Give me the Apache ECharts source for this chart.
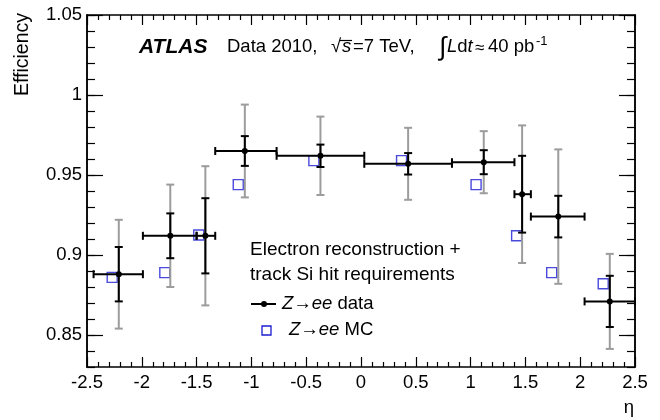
<!DOCTYPE html>
<html>
<head>
<meta charset="utf-8">
<script src="https://cdn.jsdelivr.net/npm/echarts@6/dist/echarts.min.js"></script>
<style>
    html, body { margin: 0; padding: 0; background: #fff; }
    #chart { width: 660px; height: 420px; }
</style>
</head>
<body>
<div id="chart"></div>
<script>
// eta bins (edges) and point positions
let binLo = [-2.44, -1.99, -1.50, -1.33, -0.77, 0.03, 0.83, 1.40, 1.55, 2.04];
let binHi = [-1.99, -1.50, -1.33, -0.77, 0.03, 0.83, 1.40, 1.55, 2.04, 2.50];
let etaData = [-2.21, -1.74, -1.42, -1.06, -0.37, 0.43, 1.12, 1.47, 1.80, 2.27];
let effData = [0.888, 0.912, 0.912, 0.965, 0.962, 0.957, 0.958, 0.938, 0.924, 0.871];
let statErr = [0.017, 0.014, 0.0235, 0.0093, 0.007, 0.0067, 0.0075, 0.024, 0.013, 0.016];
let totErr = [0.034, 0.032, 0.0435, 0.029, 0.0245, 0.0225, 0.0194, 0.043, 0.042, 0.0297];
// MC
let etaMC = [-2.27, -1.79, -1.48, -1.12, -0.43, 0.37, 1.05, 1.42, 1.74, 2.21];
let effMC = [0.886, 0.889, 0.9125, 0.944, 0.959, 0.959, 0.944, 0.912, 0.889, 0.882];
// y tick labels
let yMajor = [0.85, 0.9, 0.95, 1, 1.05];
let yMinor = [0.83, 0.84, 0.85, 0.86, 0.87, 0.88, 0.89, 0.9, 0.91, 0.92, 0.93, 0.94, 0.95,
    0.96, 0.97, 0.98, 0.99, 1, 1.01, 1.02, 1.03, 1.04, 1.05];

const FONT = '"Liberation Sans", Arial, Helvetica, sans-serif';
const GRAY = '#9c9c9c';
const BLUE = '#1c1cd2';

let myChart = echarts.init(document.getElementById('chart'));

let totData = [];
let blackData = [];
let mcData = [];
for (let i = 0; i < effData.length; i++) {
    totData.push([etaData[i], effData[i] - totErr[i], effData[i] + totErr[i]]);
    blackData.push([etaData[i], effData[i], binLo[i], binHi[i], statErr[i]]);
    mcData.push([etaMC[i], effMC[i]]);
}

let xAxisBase = (pos) => ({
    type: 'value',
    position: pos,
    min: -2.5,
    max: 2.5,
    interval: 0.5,
    axisLine: { show: true, onZero: false, lineStyle: { color: '#000', width: 1.5 } },
    axisTick: { show: true, inside: true, length: 10, lineStyle: { color: '#000', width: 1.2 } },
    minorTick: { show: true, splitNumber: 5, length: 5, lineStyle: { color: '#000', width: 1.2 } },
    splitLine: { show: false },
    axisLabel: {
        show: pos === 'bottom',
        color: '#000',
        fontSize: 18.5,
        fontFamily: FONT,
        margin: 6
    }
});

let yAxisBase = (pos, ticks, len, labels) => ({
    type: 'value',
    position: pos,
    min: 0.83,
    max: 1.05,
    axisLine: { show: true, onZero: false, lineStyle: { color: '#000', width: 1.5 } },
    axisTick: { show: true, inside: true, length: len, customValues: ticks, lineStyle: { color: '#000', width: 1.2 } },
    splitLine: { show: false },
    axisLabel: {
        show: labels,
        customValues: ticks,
        color: '#000',
        fontSize: 18.5,
        fontFamily: FONT,
        margin: 5,
        formatter: (v) => String(+(+v).toFixed(2))
    }
});

let italic = { i: { fontStyle: 'italic', fontSize: 18.5, fontFamily: FONT } };

let option = {
    animation: false,
    grid: { left: 87, right: 25, top: 15, bottom: 53 },
    xAxis: [xAxisBase('bottom'), xAxisBase('top')],
    yAxis: [
        yAxisBase('left', yMajor, 16, true),
        yAxisBase('left', yMinor, 8, false),
        yAxisBase('right', yMajor, 16, false),
        yAxisBase('right', yMinor, 8, false)
    ],
    series: [
        {
            // MC open squares
            type: 'scatter',
            data: mcData,
            symbol: 'rect',
            symbolSize: 10,
            itemStyle: { color: 'rgba(0,0,0,0)', borderColor: BLUE, borderWidth: 1.4 },
            z: 2
        },
        {
            // total uncertainty (gray)
            type: 'custom',
            data: totData,
            z: 3,
            renderItem: (params, api) => {
                let lo = api.coord([api.value(0), api.value(1)]);
                let hi = api.coord([api.value(0), api.value(2)]);
                let st = { stroke: GRAY, lineWidth: 2 };
                return {
                    type: 'group',
                    children: [
                        { type: 'line', shape: { x1: lo[0], y1: lo[1], x2: hi[0], y2: hi[1] }, style: st },
                        { type: 'line', shape: { x1: lo[0] - 4, y1: lo[1], x2: lo[0] + 4, y2: lo[1] }, style: st },
                        { type: 'line', shape: { x1: hi[0] - 4, y1: hi[1], x2: hi[0] + 4, y2: hi[1] }, style: st }
                    ]
                };
            }
        },
        {
            // data with stat errors and bin widths (black)
            type: 'custom',
            data: blackData,
            z: 4,
            renderItem: (params, api) => {
                let x = api.value(0), y = api.value(1);
                let c = api.coord([x, y]);
                let l = api.coord([api.value(2), y]);
                let r = api.coord([api.value(3), y]);
                let lo = api.coord([x, y - api.value(4)]);
                let hi = api.coord([x, y + api.value(4)]);
                let st = { stroke: '#000', lineWidth: 2 };
                return {
                    type: 'group',
                    children: [
                        { type: 'line', shape: { x1: l[0], y1: l[1], x2: r[0], y2: r[1] }, style: st },
                        { type: 'line', shape: { x1: l[0], y1: l[1] - 4, x2: l[0], y2: l[1] + 4 }, style: st },
                        { type: 'line', shape: { x1: r[0], y1: r[1] - 4, x2: r[0], y2: r[1] + 4 }, style: st },
                        { type: 'line', shape: { x1: lo[0], y1: lo[1], x2: hi[0], y2: hi[1] }, style: st },
                        { type: 'line', shape: { x1: lo[0] - 4, y1: lo[1], x2: lo[0] + 4, y2: lo[1] }, style: st },
                        { type: 'line', shape: { x1: hi[0] - 4, y1: hi[1], x2: hi[0] + 4, y2: hi[1] }, style: st },
                        { type: 'circle', shape: { cx: c[0], cy: c[1], r: 3 }, style: { fill: '#000' } }
                    ]
                };
            }
        }
    ],
    graphic: [
        // axis titles
        {
            type: 'text', x: 23, y: 13, rotation: Math.PI / 2,
            style: { text: 'Efficiency', font: '19.5px ' + FONT, fill: '#000', align: 'right', verticalAlign: 'middle' }
        },
        {
            type: 'text', x: 634, y: 408,
            style: { text: 'η', font: '18.5px ' + FONT, fill: '#000', align: 'right', verticalAlign: 'middle' }
        },
        // header
        {
            type: 'text', x: 139, y: 47,
            style: { text: 'ATLAS', font: 'italic bold 21px ' + FONT, fill: '#000', verticalAlign: 'middle' }
        },
        {
            type: 'text', x: 227, y: 47,
            style: { text: 'Data 2010,', font: '18.5px ' + FONT, fill: '#000', verticalAlign: 'middle' }
        },
        {
            type: 'text', x: 331, y: 47,
            style: { text: '√', font: '18.5px ' + FONT, fill: '#000', verticalAlign: 'middle' }
        },
        {
            type: 'text', x: 342, y: 47,
            style: { text: 's', font: 'italic 18.5px ' + FONT, fill: '#000', verticalAlign: 'middle' }
        },
        {
            type: 'line', shape: { x1: 340, y1: 40.5, x2: 352, y2: 40.5 }, style: { stroke: '#000', lineWidth: 1.2 }
        },
        {
            type: 'text', x: 353, y: 47,
            style: { text: '=7 TeV,', font: '18.5px ' + FONT, fill: '#000', verticalAlign: 'middle' }
        },
        {
            type: 'text', x: 439, y: 48,
            style: { text: '∫', font: '26px ' + FONT, fill: '#000', verticalAlign: 'middle' }
        },
        {
            type: 'text', x: 447, y: 47,
            style: { text: '{i|L}d{i|t}', font: '18.5px ' + FONT, fill: '#000', verticalAlign: 'middle', rich: italic }
        },
        {
            type: 'text', x: 475, y: 48,
            style: { text: '≈', font: '17px ' + FONT, fill: '#000', verticalAlign: 'middle' }
        },
        {
            type: 'text', x: 488, y: 47,
            style: { text: '40 pb', font: '18.5px ' + FONT, fill: '#000', verticalAlign: 'middle' }
        },
        {
            type: 'text', x: 536, y: 41,
            style: { text: '-1', font: '13px ' + FONT, fill: '#000', verticalAlign: 'middle' }
        },
        // legend
        {
            type: 'text', x: 250, y: 250,
            style: { text: 'Electron reconstruction +', font: '19px ' + FONT, fill: '#000', verticalAlign: 'middle' }
        },
        {
            type: 'text', x: 250, y: 275,
            style: { text: 'track Si hit requirements', font: '19px ' + FONT, fill: '#000', verticalAlign: 'middle' }
        },
        {
            type: 'line', shape: { x1: 251, y1: 304, x2: 276, y2: 304 }, style: { stroke: '#000', lineWidth: 2 }
        },
        {
            type: 'circle', shape: { cx: 264, cy: 304, r: 3 }, style: { fill: '#000' }
        },
        {
            type: 'text', x: 282, y: 304,
            style: { text: '{i|Z}→{i|ee} data', font: '18.5px ' + FONT, fill: '#000', verticalAlign: 'middle', rich: italic }
        },
        {
            type: 'rect', shape: { x: 262, y: 326, width: 9, height: 9 },
            style: { fill: 'none', stroke: BLUE, lineWidth: 1.3 }
        },
        {
            type: 'text', x: 289, y: 330,
            style: { text: '{i|Z}→{i|ee} MC', font: '18.5px ' + FONT, fill: '#000', verticalAlign: 'middle', rich: italic }
        }
    ]
};
myChart.setOption(option);
</script>
</body>
</html>
